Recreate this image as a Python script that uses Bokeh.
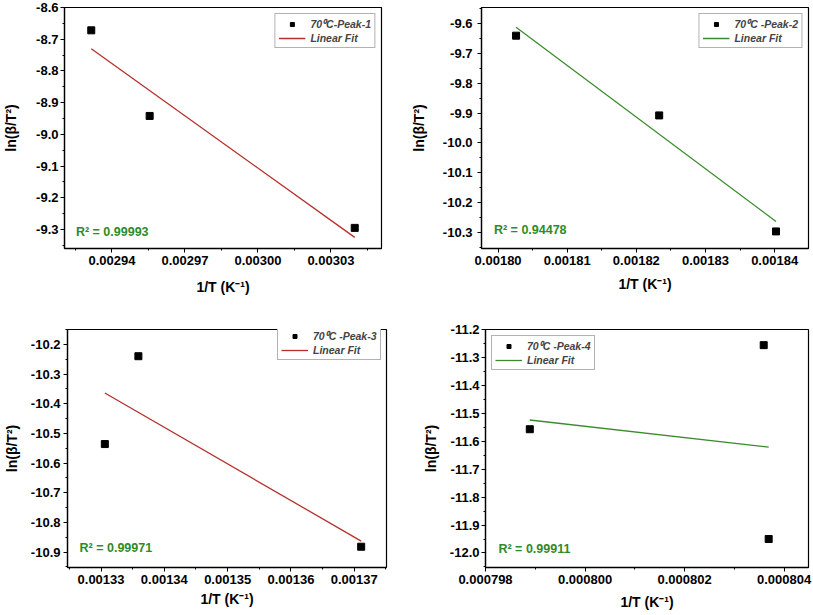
from bokeh.plotting import figure
from bokeh.layouts import column, row
from bokeh.models import (FixedTicker, PrintfTickFormatter, Range1d, Legend,
                          LegendItem, Label)
from bokeh.embed import file_html
from bokeh.resources import INLINE

# ---------------- data ----------------
p1_x = [0.0029315, 0.0029555, 0.0030398]
p1_y = [-8.672, -8.942, -9.295]
p1_fit_x = [0.0029315, 0.0030398]
p1_fit_y = [-8.730, -9.325]

p2_x = [0.0018026, 0.0018233, 0.0018402]
p2_y = [-9.642, -9.908, -10.295]
p2_fit_x = [0.0018026, 0.0018402]
p2_fit_y = [-9.614, -10.262]

p3_x = [0.0013306, 0.0013359, 0.0013711]
p3_y = [-10.536, -10.240, -10.882]
p3_fit_x = [0.0013306, 0.0013711]
p3_fit_y = [-10.364, -10.863]

p4_x = [0.00079889, 0.00080359, 0.00080369]
p4_y = [-11.557, -11.256, -11.950]
p4_fit_x = [0.00079889, 0.00080369]
p4_fit_y = [-11.524, -11.621]

series_labels = ["70\u2070C-Peak-1", "70\u2070C -Peak-2", "70\u2070C -Peak-3", "70\u2070C -Peak-4"]
fit_label = "Linear Fit"
r2_labels = ["R\u00b2 = 0.99993", "R\u00b2 = 0.94478", "R\u00b2 = 0.99971", "R\u00b2 = 0.99911"]
x_title = "1/T (K\u207b\u00b9)"
y_title = "ln(\u03b2/T\u00b2)"

# tick values
p1_xticks = [0.00294, 0.00297, 0.00300, 0.00303]
p1_xminor = [0.002925, 0.002955, 0.002985, 0.003015, 0.003045]
p1_yticks = [-8.6, -8.7, -8.8, -8.9, -9.0, -9.1, -9.2, -9.3]
p1_yminor = [-8.65, -8.75, -8.85, -8.95, -9.05, -9.15, -9.25, -9.35]

p2_xticks = [0.00180, 0.00181, 0.00182, 0.00183, 0.00184]
p2_xminor = [0.001805, 0.001815, 0.001825, 0.001835, 0.001845]
p2_yticks = [-9.6, -9.7, -9.8, -9.9, -10.0, -10.1, -10.2, -10.3]
p2_yminor = [-9.55, -9.65, -9.75, -9.85, -9.95, -10.05, -10.15, -10.25, -10.35]

p3_xticks = [0.00133, 0.00134, 0.00135, 0.00136, 0.00137]
p3_xminor = [0.001325, 0.001335, 0.001345, 0.001355, 0.001365, 0.001375]
p3_yticks = [-10.2, -10.3, -10.4, -10.5, -10.6, -10.7, -10.8, -10.9]
p3_yminor = [-10.15, -10.25, -10.35, -10.45, -10.55, -10.65, -10.75, -10.85, -10.95]

p4_xticks = [0.000798, 0.000800, 0.000802, 0.000804]
p4_xminor = [0.000799, 0.000801, 0.000803]
p4_yticks = [-11.2, -11.3, -11.4, -11.5, -11.6, -11.7, -11.8, -11.9, -12.0]
p4_yminor = [-11.25, -11.35, -11.45, -11.55, -11.65, -11.75, -11.85, -11.95, -12.05]

# axis ranges
p1_xr, p1_yr = (0.0029205, 0.0030508), (-9.36, -8.6)
p2_xr, p2_yr = (0.0017976, 0.0018449), (-10.352, -9.548)
p3_xr, p3_yr = (0.0013247, 0.0013751), (-10.952, -10.15)
p4_xr, p4_yr = (0.000798, 0.00080449), (-12.052, -11.2)

# R^2 label positions (data coords)
r2_pos = [(0.0029252, -9.3075), (0.0017994, -10.29), (0.0013266, -10.886), (0.00079826, -11.986)]

RED = "#B5302C"
GREEN = "#3C8A2E"
R2GREEN = "#2E8B2A"
FONT = "Liberation Sans"


def panel(xs, ys, fx, fy, xr, yr, xt, xm, yt, ym, xfmt, label, r2, r2xy, color,
          w, h, bl, br, bt, bb, x_als, y_als, y_std, leg_loc):
    p = figure(width=w, height=h, output_backend="svg", toolbar_location=None,
               x_range=Range1d(*xr), y_range=Range1d(*yr),
               min_border_left=bl, min_border_right=br,
               min_border_top=bt, min_border_bottom=bb)
    p.grid.visible = False
    p.outline_line_color = "black"
    p.outline_line_width = 1.2
    p.background_fill_color = "white"
    p.border_fill_color = "white"

    sc = p.scatter(xs, ys, marker="square", size=7, color="black")
    ln = p.line(fx, fy, line_color=color, line_width=1.3)

    p.xaxis.ticker = FixedTicker(ticks=xt, minor_ticks=xm)
    p.yaxis.ticker = FixedTicker(ticks=yt, minor_ticks=ym)
    p.xaxis.formatter = PrintfTickFormatter(format=xfmt)
    p.yaxis.formatter = PrintfTickFormatter(format="%.1f")
    for ax in (p.xaxis[0], p.yaxis[0]):
        ax.axis_line_color = "black"
        ax.axis_line_width = 1.3
        ax.major_tick_in = 0
        ax.major_tick_out = 4
        ax.minor_tick_in = 0
        ax.minor_tick_out = 2
        ax.major_tick_line_color = "black"
        ax.minor_tick_line_color = "black"
        ax.major_label_text_font = FONT
        ax.major_label_text_font_style = "bold"
        ax.major_label_text_font_size = "13px"
        ax.major_label_text_color = "black"
        ax.axis_label_text_font = FONT
        ax.axis_label_text_font_style = "bold"
        ax.axis_label_text_font_size = "14px"
        ax.axis_label_text_color = "black"
    p.xaxis.axis_label = x_title
    p.yaxis.axis_label = y_title
    p.xaxis.major_label_standoff = 3
    p.yaxis.major_label_standoff = y_std
    p.xaxis.axis_label_standoff = x_als
    p.yaxis.axis_label_standoff = y_als

    legend = Legend(items=[LegendItem(label=label, renderers=[sc]),
                           LegendItem(label=fit_label, renderers=[ln])])
    legend.location = leg_loc
    legend.margin = 0 if isinstance(leg_loc, tuple) else 6
    legend.label_text_font = FONT
    legend.label_text_font_style = "bold italic"
    legend.label_text_font_size = "10.5px"
    legend.label_height = 10
    legend.glyph_height = 10
    legend.glyph_width = 27
    legend.label_standoff = 5
    legend.spacing = 1
    legend.padding = 3
    legend.border_line_color = "#666666"
    legend.border_line_width = 1
    legend.background_fill_alpha = 1
    p.add_layout(legend)

    p.add_layout(Label(x=r2xy[0], y=r2xy[1], text=r2, text_color=R2GREEN,
                       text_font=FONT, text_font_style="bold",
                       text_font_size="12.5px", text_baseline="middle",
                       text_align="left"))
    return p


f1 = panel(p1_x, p1_y, p1_fit_x, p1_fit_y, p1_xr, p1_yr, p1_xticks, p1_xminor,
           p1_yticks, p1_yminor, "%.5f", series_labels[0], r2_labels[0], r2_pos[0], RED,
           405, 305, 61, 24, 6, 57, 11, 14, 2, "top_right")
f2 = panel(p2_x, p2_y, p2_fit_x, p2_fit_y, p2_xr, p2_yr, p2_xticks, p2_xminor,
           p2_yticks, p2_yminor, "%.5f", series_labels[1], r2_labels[1], r2_pos[1], GREEN,
           408, 305, 76, 5, 7, 55, 8, 13, 5, "top_right")
f3 = panel(p3_x, p3_y, p3_fit_x, p3_fit_y, p3_xr, p3_yr, p3_xticks, p3_xminor,
           p3_yticks, p3_yminor, "%.5f", series_labels[2], r2_labels[2], r2_pos[2], RED,
           405, 309, 62, 19, 22, 41, 4, 8, 3, (210, 207))
f4 = panel(p4_x, p4_y, p4_fit_x, p4_fit_y, p4_xr, p4_yr, p4_xticks, p4_xminor,
           p4_yticks, p4_yminor, "%.6f", series_labels[3], r2_labels[3], r2_pos[3], GREEN,
           408, 309, 80, 5, 24, 47, 7, 8, 2, "top_left")

layout = column(row(f1, f2), row(f3, f4))
open("out.html", "w").write(file_html(layout, INLINE))
